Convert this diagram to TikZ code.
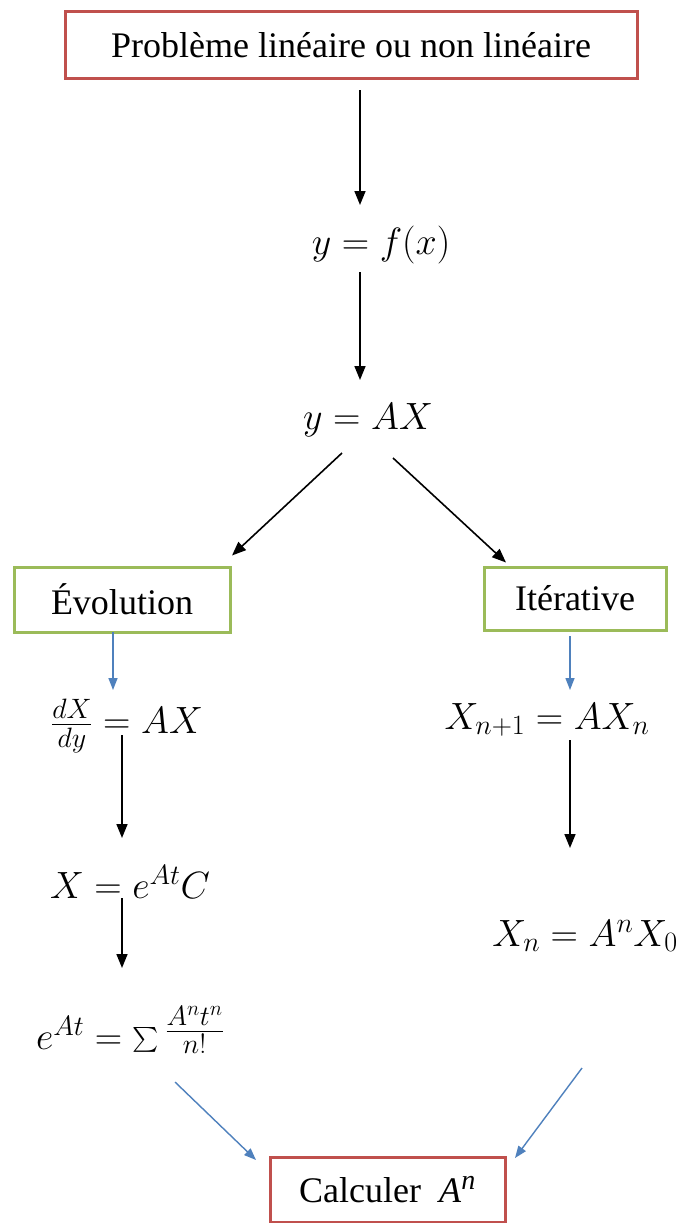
\RequirePackage{fix-cm}
\documentclass[tikz,border=0pt]{standalone}
\usepackage{amsmath}
\usepackage{exscale}
\usepackage{fontspec}
\setmainfont{Liberation Serif}
\DeclareMathSizes{36}{38}{28}{21}
\usetikzlibrary{arrows.meta,calc}
\definecolor{boxred}{RGB}{192,80,77}
\definecolor{boxgreen}{RGB}{155,187,89}
\definecolor{arrblue}{RGB}{79,129,189}
\begin{document}
\begin{tikzpicture}[x=1pt,y=-1pt,
  every node/.style={font=\fontsize{36}{43}\selectfont, inner sep=0pt},
  redbox/.style={draw=boxred, line width=3pt, rectangle},
  greenbox/.style={draw=boxgreen, line width=3pt, rectangle},
  eqn/.style={},
  blackarr/.style={draw=black, line width=1.6pt, -{Triangle[length=14pt,width=11pt]}},
  bluearr/.style={draw=arrblue, line width=1.4pt, -{Triangle[length=12pt,width=9pt]}}]
\useasboundingbox (0,0) rectangle (677,1223);
\fill[white] (0,0) rectangle (677,1223);
% nodes
\node[redbox, minimum width=572pt, minimum height=66pt] (top) at (351,45) {Problème linéaire ou non linéaire};
\node[eqn] (fx) at (381,245) {$y = f(x)$};
\node[eqn] (ax) at (368,420) {$y = AX$};
\node[greenbox, minimum width=216pt, minimum height=65pt] (evo) at (122,599.5) {Évolution};
\node[greenbox, minimum width=182pt, minimum height=63pt] (ite) at (575,598.5) {Itérative};
\node[eqn] (dxdy) at (127,726) {$\frac{dX}{dy} = AX$};
\node[eqn] (xn1) at (547,720) {$X_{n+1} = AX_n$};
\node[eqn] (xeat) at (130,882) {$X = e^{At}C$};
\node[eqn] (xn) at (585,936) {$X_n = A^n X_0$};
\node[eqn] (sum) at (130,1030) {$e^{At} = \sum\raisebox{9pt}{$\frac{A^n t^n}{n!}$}$};
\node[redbox, minimum width=235pt, minimum height=65pt] (calc) at (387.5,1189.5) {Calculer\ \ \textit{A}$^{\textit{n}}$};
% connectors
\draw[blackarr] ($(top)+(9,45)$) -- ($(fx)+(-21,-40)$);
\draw[blackarr] ($(fx)+(-21,27)$) -- ($(ax)+(-8,-40)$);
\draw[blackarr] ($(ax)+(-26,33)$) -- ($(evo)+(110,-44)$);
\draw[blackarr] ($(ax)+(25,38)$) -- ($(ite)+(-69,-36)$);
\draw[bluearr] ($(evo)+(-9,32.5)$) -- ($(dxdy)+(-14,-36)$);
\draw[bluearr] ($(ite)+(-5,37.5)$) -- ($(xn1)+(23,-30)$);
\draw[blackarr] ($(dxdy)+(-5,9)$) -- ($(xeat)+(-8,-44)$);
\draw[blackarr] ($(xn1)+(23,20)$) -- ($(xn)+(-15,-88)$);
\draw[blackarr] ($(xeat)+(-8,16)$) -- ($(sum)+(-8,-62)$);
\draw[bluearr] ($(sum)+(45,52)$) -- ($(calc)+(-131.5,-29.5)$);
\draw[bluearr] ($(xn)+(-3,132)$) -- ($(calc)+(127.5,-31.5)$);
\end{tikzpicture}
\end{document}
